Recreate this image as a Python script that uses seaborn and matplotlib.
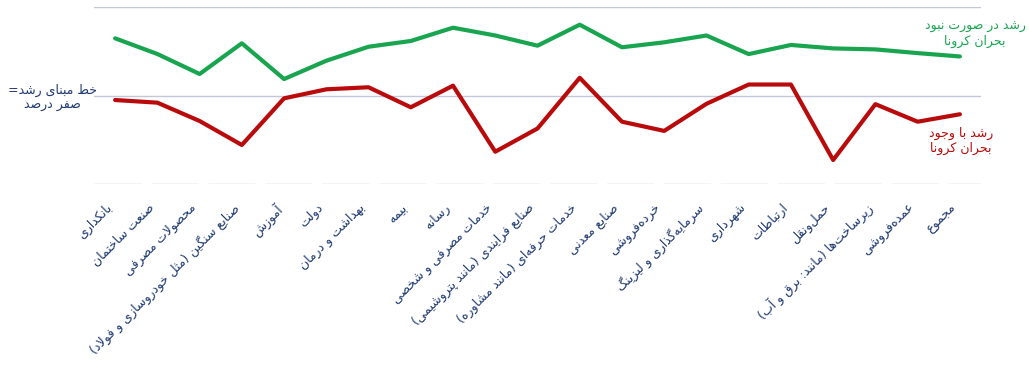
import numpy as np
import pandas as pd
import matplotlib
matplotlib.use("Agg")
import matplotlib.pyplot as plt
import matplotlib.transforms as mtransforms
import seaborn as sns

# ---------------- data ----------------
categories = [
    "بانکداری",
    "صنعت ساختمان",
    "محصولات مصرفی",
    "صنایع سنگین (مثل خودروسازی و فولاد)",
    "آموزش",
    "دولت",
    "بهداشت و درمان",
    "بیمه",
    "رسانه",
    "خدمات مصرفی و شخصی",
    "صنایع فرایندی (مانند پتروشیمی)",
    "خدمات حرفه‌ای (مانند مشاوره)",
    "صنایع معدنی",
    "خرده‌فروشی",
    "سرمایه‌گذاری و لیزینگ",
    "شهرداری",
    "ارتباطات",
    "حمل‌ونقل",
    "زیرساخت‌ها (مانند: برق و آب)",
    "عمده‌فروشی",
    "مجموع",
]
growth_no_covid = [6.46, 4.69, 2.43, 5.90, 1.86, 3.93, 5.51, 6.16, 7.66, 6.78, 5.63,
                   8.00, 5.45, 6.01, 6.78, 4.68, 5.71, 5.32, 5.21, 4.79, 4.41]
growth_covid = [-0.51, -0.81, -2.88, -5.59, -0.32, 0.70, 0.93, -1.33, 1.11, -6.35, -3.73,
                2.00, -2.96, -4.00, -0.94, 1.24, 1.24, -7.29, -0.98, -2.96, -2.12]
series_names = ["رشد در صورت نبود\nبحران کرونا", "رشد با وجود\nبحران کرونا"]
baseline_label = "خط مبنای رشد=\nصفر درصد"
grid_values = [10, 0, -10]

# ---------------- minimal Persian shaping (logical -> visual) ----------------
FORMS = {
    '\u0627': ('\uFE8D', '\uFE8E', None, None),
    '\u0622': ('\uFE81', '\uFE82', None, None),
    '\u0628': ('\uFE8F', '\uFE90', '\uFE91', '\uFE92'),
    '\u067E': ('\uFB56', '\uFB57', '\uFB58', '\uFB59'),
    '\u062A': ('\uFE95', '\uFE96', '\uFE97', '\uFE98'),
    '\u062B': ('\uFE99', '\uFE9A', '\uFE9B', '\uFE9C'),
    '\u062C': ('\uFE9D', '\uFE9E', '\uFE9F', '\uFEA0'),
    '\u0686': ('\uFB7A', '\uFB7B', '\uFB7C', '\uFB7D'),
    '\u062D': ('\uFEA1', '\uFEA2', '\uFEA3', '\uFEA4'),
    '\u062E': ('\uFEA5', '\uFEA6', '\uFEA7', '\uFEA8'),
    '\u062F': ('\uFEA9', '\uFEAA', None, None),
    '\u0630': ('\uFEAB', '\uFEAC', None, None),
    '\u0631': ('\uFEAD', '\uFEAE', None, None),
    '\u0632': ('\uFEAF', '\uFEB0', None, None),
    '\u0698': ('\uFB8A', '\uFB8B', None, None),
    '\u0633': ('\uFEB1', '\uFEB2', '\uFEB3', '\uFEB4'),
    '\u0634': ('\uFEB5', '\uFEB6', '\uFEB7', '\uFEB8'),
    '\u0635': ('\uFEB9', '\uFEBA', '\uFEBB', '\uFEBC'),
    '\u0636': ('\uFEBD', '\uFEBE', '\uFEBF', '\uFEC0'),
    '\u0637': ('\uFEC1', '\uFEC2', '\uFEC3', '\uFEC4'),
    '\u0638': ('\uFEC5', '\uFEC6', '\uFEC7', '\uFEC8'),
    '\u0639': ('\uFEC9', '\uFECA', '\uFECB', '\uFECC'),
    '\u063A': ('\uFECD', '\uFECE', '\uFECF', '\uFED0'),
    '\u0641': ('\uFED1', '\uFED2', '\uFED3', '\uFED4'),
    '\u0642': ('\uFED5', '\uFED6', '\uFED7', '\uFED8'),
    '\u06A9': ('\uFB8E', '\uFB8F', '\uFB90', '\uFB91'),
    '\u0643': ('\uFED9', '\uFEDA', '\uFEDB', '\uFEDC'),
    '\u06AF': ('\uFB92', '\uFB93', '\uFB94', '\uFB95'),
    '\u0644': ('\uFEDD', '\uFEDE', '\uFEDF', '\uFEE0'),
    '\u0645': ('\uFEE1', '\uFEE2', '\uFEE3', '\uFEE4'),
    '\u0646': ('\uFEE5', '\uFEE6', '\uFEE7', '\uFEE8'),
    '\u0648': ('\uFEED', '\uFEEE', None, None),
    '\u0647': ('\uFEE9', '\uFEEA', '\uFEEB', '\uFEEC'),
    '\u06CC': ('\uFBFC', '\uFBFD', '\uFBFE', '\uFBFF'),
    '\u064A': ('\uFEF1', '\uFEF2', '\uFEF3', '\uFEF4'),
    '\u0626': ('\uFE89', '\uFE8A', '\uFE8B', '\uFE8C'),
}
LAM_ALEF = {'\u0627': ('\uFEFB', '\uFEFC'), '\u0622': ('\uFEF5', '\uFEF6')}
MIRROR = {'(': ')', ')': '('}


def _shape_line(s):
    toks = []
    i = 0
    while i < len(s):
        c = s[i]
        if c == '\u0644' and i + 1 < len(s) and s[i + 1] in LAM_ALEF:
            toks.append(('LA', s[i + 1]))
            i += 2
        else:
            toks.append(c)
            i += 1

    def joins_next(t):
        if isinstance(t, tuple):
            return False
        return t in FORMS and FORMS[t][2] is not None

    def joins_prev(t):
        return isinstance(t, tuple) or t in FORMS

    out = []
    for k, t in enumerate(toks):
        prev = toks[k - 1] if k > 0 else None
        nxt = toks[k + 1] if k + 1 < len(toks) else None
        cp = prev is not None and joins_next(prev) and joins_prev(t)
        cn = nxt is not None and joins_next(t) and joins_prev(nxt)
        if isinstance(t, tuple):
            iso, fin = LAM_ALEF[t[1]]
            out.append(fin if cp else iso)
        elif t in FORMS:
            f = FORMS[t]
            if cp and cn:
                out.append(f[3])
            elif cp:
                out.append(f[1])
            elif cn:
                out.append(f[2])
            else:
                out.append(f[0])
        elif t == '\u200c':
            continue
        else:
            out.append(t)
    vis = ''.join(out)[::-1]
    return ''.join(MIRROR.get(c, c) for c in vis)


def fa(s):
    return '\n'.join(_shape_line(line) for line in s.split('\n'))


# ---------------- styling ----------------
sns.set_style("white")
plt.rcParams['font.family'] = ['DejaVu Sans']

GREEN = "#19A550"
RED = "#B90B0B"
NAVY = "#1F3A73"
GRID = "#C3C7DA"

fig = plt.figure(figsize=(10.29, 3.65), dpi=100)
W, H = 1029, 365
ax = fig.add_axes([94 / W, 1 - 184 / H, 887 / W, 177 / H])

n = len(categories)
df = pd.DataFrame({
    "idx": list(range(n)) * 2,
    "value": growth_no_covid + growth_covid,
    "series": [series_names[0]] * n + [series_names[1]] * n,
})

for yv, ls in zip(grid_values, ["-", "-", (0, (34, 7))]):
    ax.axhline(yv, color=GRID, lw=1.0, ls=ls, zorder=0)

sns.lineplot(data=df, x="idx", y="value", hue="series",
             palette=[GREEN, RED], linewidth=3.0, sort=False,
             legend=False, ax=ax)

ax.set_xlim(-0.5, n - 0.5)
ax.set_ylim(-10, 10)
ax.set_xticks([])
ax.set_yticks([])
ax.set_xlabel("")
ax.set_ylabel("")
for sp in ax.spines.values():
    sp.set_visible(False)

# rotated category labels
off = mtransforms.ScaledTranslation(-10 / 100, -17 / 100, fig.dpi_scale_trans)
trans = ax.get_xaxis_transform() + off
for i, lab in enumerate(categories):
    ax.text(i, 0, fa(lab), transform=trans, rotation=45, rotation_mode="anchor",
            ha="right", va="top", fontsize=9, color=NAVY, clip_on=False)

# annotations
fig.text(52 / W, 1 - 98 / H, fa(baseline_label), ha="center", va="center",
         multialignment="center", fontsize=9, color=NAVY, linespacing=1.2)
fig.text(975 / W, 1 - 34 / H, fa(series_names[0]), ha="center", va="center",
         multialignment="center", fontsize=9, color=GREEN, linespacing=1.2)
fig.text(961 / W, 1 - 141 / H, fa(series_names[1]), ha="center", va="center",
         multialignment="center", fontsize=9, color=RED, linespacing=1.2)

fig.savefig("out.png", dpi=100)
